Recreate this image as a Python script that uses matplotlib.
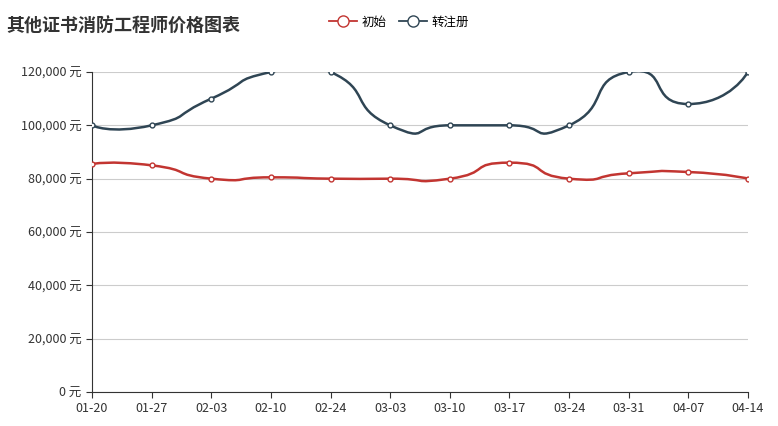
import matplotlib
matplotlib.use("Agg")
import matplotlib.pyplot as plt
from matplotlib.path import Path
from matplotlib.patches import PathPatch
from matplotlib.lines import Line2D
import numpy as np

plt.rcParams['font.family'] = ['Noto Sans CJK SC', 'DejaVu Sans']

dates = ["01-20","01-27","02-03","02-10","02-24","03-03","03-10","03-17","03-24","03-31","04-07","04-14"]
initial = [85500,85000,80000,80500,80000,80000,80000,86000,80000,82000,82500,80000]
transfer = [100000,100000,110000,120000,120000,100000,100000,100000,100000,120000,108000,120000]
names = ["初始", "转注册"]
colors = ["#c23531", "#2f4554"]

fig = plt.figure(figsize=(7.78, 4.26), dpi=100)
ax = fig.add_axes([92/778, 1-392/426, 656/778, 320/426])

def smooth_path(xs, ys, s=0.3):
    n = len(xs)
    verts = [(xs[0], ys[0])]; codes = [Path.MOVETO]
    for i in range(n-1):
        p0 = np.array([xs[max(i-1,0)], ys[max(i-1,0)]], float)
        p1 = np.array([xs[i], ys[i]], float)
        p2 = np.array([xs[i+1], ys[i+1]], float)
        p3 = np.array([xs[min(i+2,n-1)], ys[min(i+2,n-1)]], float)
        c1 = p1 + (p2 - p0) * s / 2 * (1 if i > 0 else 0) if i > 0 else p1
        c2 = p2 - (p3 - p1) * s / 2 if i+1 < n-1 else p2
        verts += [tuple(c1), tuple(c2), tuple(p2)]
        codes += [Path.CURVE4]*3
    return Path(verts, codes)

x = np.arange(len(dates))
for data, c in [(initial, colors[0]), (transfer, colors[1])]:
    ax.add_patch(PathPatch(smooth_path(x, data, 0.7), fill=False, edgecolor=c, lw=1.8, zorder=3))
    ax.plot(x, data, 'o', ms=3.5, mfc='white', mec=c, mew=1, zorder=4)

ax.set_xlim(0, len(dates)-1)
ax.set_ylim(0, 120000)
ax.set_xticks(x)
ax.set_xticklabels(dates)
yt = np.arange(0, 120001, 20000)
ax.set_yticks(yt)
ax.set_yticklabels([f"{v:,} 元" for v in yt])
ax.grid(axis='y', color='#cccccc', lw=0.8)
ax.set_axisbelow(True)
for s in ['top','right']:
    ax.spines[s].set_visible(False)
ax.spines['left'].set_color('#333333')
ax.spines['bottom'].set_color('#333333')
ax.tick_params(colors='#333333', labelsize=9, length=4)
ax.tick_params(axis='y', length=4)

fig.text(6/778, 1-26/426, "其他证书消防工程师价格图表", fontsize=13, fontweight='bold', color='#333333', va='center')
handles = [Line2D([0],[0], color=c, lw=1.3, marker='o', ms=8, mfc='white', mec=c) for c in colors]
fig.legend(handles, names, loc='center left', bbox_to_anchor=(318/778, 1-22/426), ncol=2, frameon=False,
           fontsize=9, handlelength=2.2, columnspacing=1.0, handletextpad=0.4)
fig.savefig("out.png", dpi=100)
